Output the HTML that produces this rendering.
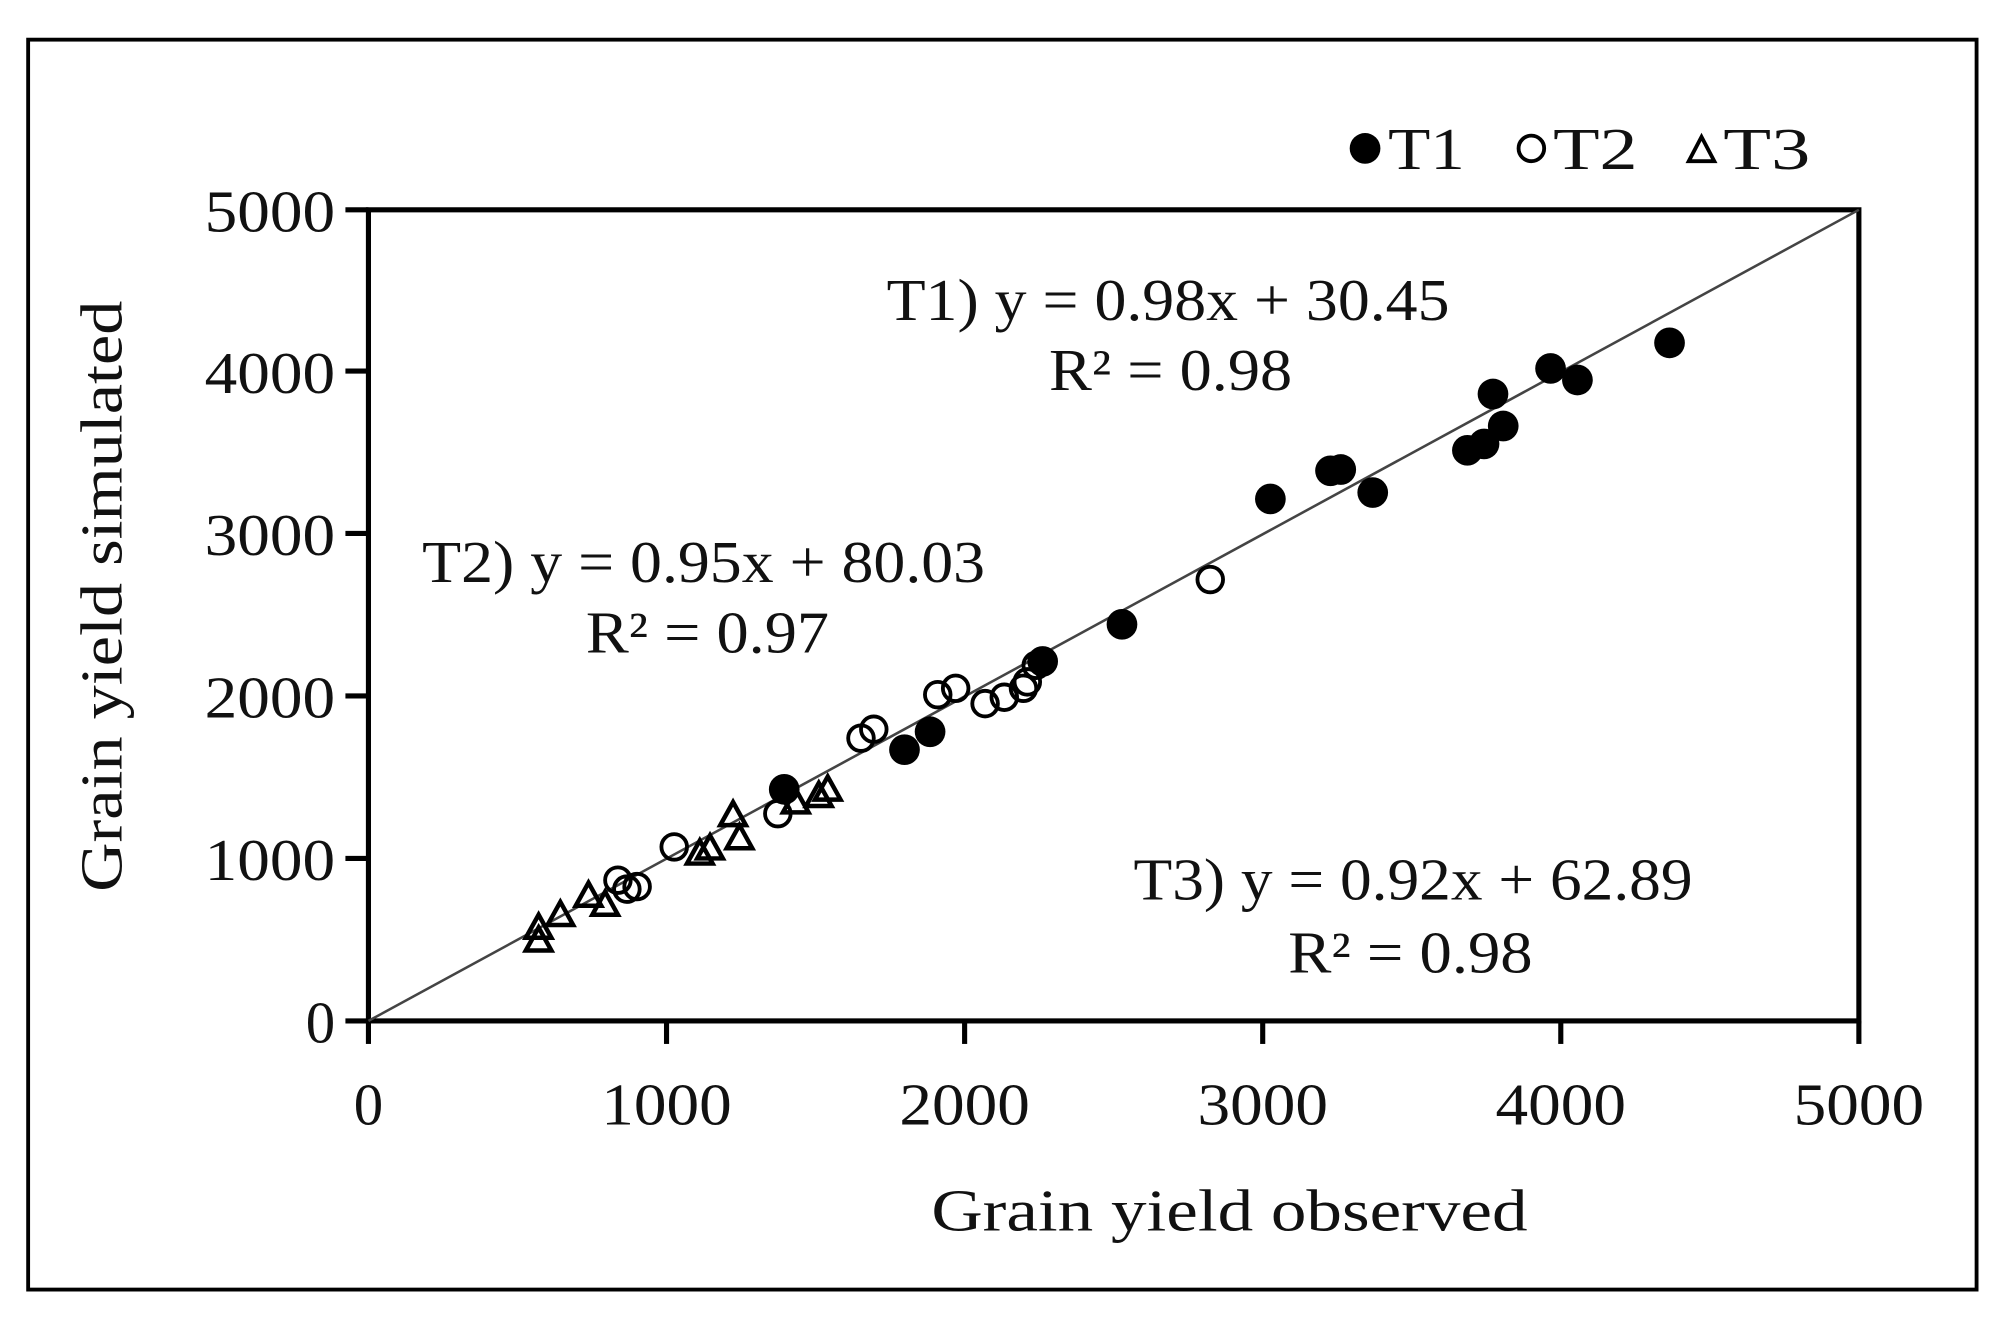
<!DOCTYPE html>
<html><head><style>html,body{margin:0;padding:0;background:#fff}svg{display:block}text{font-family:"Liberation Serif","Times New Roman",serif}</style></head>
<body>
<svg width="2006" height="1319" viewBox="0 0 1568 1031" preserveAspectRatio="none" xmlns="http://www.w3.org/2000/svg" fill="#111">
<rect x="22" y="31" width="1523" height="977" fill="none" stroke="#000" stroke-width="3"/>
<rect x="288" y="164" width="1165" height="634" fill="none" stroke="#000" stroke-width="4"/>
<g stroke="#000" stroke-width="4">
<line x1="270" y1="798" x2="288" y2="798"/><line x1="270" y1="671" x2="288" y2="671"/><line x1="270" y1="544" x2="288" y2="544"/><line x1="270" y1="417" x2="288" y2="417"/><line x1="270" y1="290" x2="288" y2="290"/><line x1="270" y1="164" x2="288" y2="164"/>
<line x1="288" y1="798" x2="288" y2="816"/><line x1="521" y1="798" x2="521" y2="816"/><line x1="754" y1="798" x2="754" y2="816"/><line x1="987" y1="798" x2="987" y2="816"/><line x1="1220" y1="798" x2="1220" y2="816"/><line x1="1453" y1="798" x2="1453" y2="816"/>
</g>
<line x1="288" y1="798" x2="1453" y2="164" stroke="#444" stroke-width="2"/>
<g font-size="46">
<text x="262" y="181" text-anchor="end" textLength="102" lengthAdjust="spacingAndGlyphs">5000</text>
<text x="262" y="307" text-anchor="end" textLength="102" lengthAdjust="spacingAndGlyphs">4000</text>
<text x="262" y="434" text-anchor="end" textLength="102" lengthAdjust="spacingAndGlyphs">3000</text>
<text x="262" y="561" text-anchor="end" textLength="102" lengthAdjust="spacingAndGlyphs">2000</text>
<text x="262" y="688" text-anchor="end" textLength="102" lengthAdjust="spacingAndGlyphs">1000</text>
<text x="262" y="815" text-anchor="end">0</text>
<text x="288" y="879" text-anchor="middle">0</text>
<text x="521" y="879" text-anchor="middle" textLength="102" lengthAdjust="spacingAndGlyphs">1000</text>
<text x="754" y="879" text-anchor="middle" textLength="102" lengthAdjust="spacingAndGlyphs">2000</text>
<text x="987" y="879" text-anchor="middle" textLength="102" lengthAdjust="spacingAndGlyphs">3000</text>
<text x="1220" y="879" text-anchor="middle" textLength="102" lengthAdjust="spacingAndGlyphs">4000</text>
<text x="1453" y="879" text-anchor="middle" textLength="102" lengthAdjust="spacingAndGlyphs">5000</text>
<text x="728" y="962" textLength="466" lengthAdjust="spacingAndGlyphs">Grain yield  observed</text>
<text transform="translate(95,697) rotate(-90)" textLength="462" lengthAdjust="spacingAndGlyphs">Grain yield  simulated</text>
<text x="693" y="250" textLength="440" lengthAdjust="spacingAndGlyphs">T1) y = 0.98x + 30.45</text>
<text x="820" y="305" textLength="190" lengthAdjust="spacingAndGlyphs">R² = 0.98</text>
<text x="330" y="455" textLength="440" lengthAdjust="spacingAndGlyphs">T2) y = 0.95x + 80.03</text>
<text x="458" y="510" textLength="190" lengthAdjust="spacingAndGlyphs">R² = 0.97</text>
<text x="886" y="703" textLength="437" lengthAdjust="spacingAndGlyphs">T3) y = 0.92x + 62.89</text>
<text x="1007" y="760" textLength="191" lengthAdjust="spacingAndGlyphs">R² = 0.98</text>
<text x="1085" y="132" textLength="60" lengthAdjust="spacingAndGlyphs">T1</text>
<text x="1214" y="132" textLength="66" lengthAdjust="spacingAndGlyphs">T2</text>
<text x="1347" y="132" textLength="68" lengthAdjust="spacingAndGlyphs">T3</text>
</g>
<circle cx="1067" cy="116" r="12" fill="#000"/>
<circle cx="1197" cy="116" r="10" fill="none" stroke="#000" stroke-width="3"/>
<path d="M1330,107 L1340,126 L1320,126 Z" fill="none" stroke="#000" stroke-width="3"/>
<g fill="none" stroke="#000" stroke-width="3.5">
<path d="M421,715 l10,18 h-20 z"/><path d="M421,725 l10,18 h-20 z"/><path d="M438,705 l10,18 h-20 z"/>
<path d="M460,690 l10,18 h-20 z"/><path d="M473,697 l10,18 h-20 z"/>
<path d="M547,657 l10,18 h-20 z"/><path d="M555,653 l10,18 h-20 z"/><path d="M578,645 l10,18 h-20 z"/><path d="M573,627 l10,18 h-20 z"/>
<path d="M622,617 l10,18 h-20 z"/><path d="M640,612 l10,18 h-20 z"/><path d="M647,607 l10,18 h-20 z"/>
</g>
<g fill="none" stroke="#000" stroke-width="3">
<circle cx="946" cy="453" r="10"/><circle cx="810" cy="520" r="10"/><circle cx="803" cy="533" r="10"/>
<circle cx="747" cy="538" r="10"/><circle cx="733" cy="543" r="10"/><circle cx="770" cy="550" r="10"/>
<circle cx="785" cy="545" r="10"/><circle cx="800" cy="538" r="10"/><circle cx="683" cy="570" r="10"/>
<circle cx="673" cy="577" r="10"/><circle cx="608" cy="636" r="10"/><circle cx="527" cy="662" r="10"/>
<circle cx="483" cy="688" r="10"/><circle cx="498" cy="693" r="10"/><circle cx="490" cy="695" r="10"/>
</g>
<g fill="#000">
<circle cx="1305" cy="268" r="12"/><circle cx="1212" cy="288" r="12"/><circle cx="1233" cy="297" r="12"/>
<circle cx="1167" cy="308" r="12"/><circle cx="1175" cy="333" r="12"/><circle cx="1160" cy="347" r="12"/>
<circle cx="1147" cy="352" r="12"/><circle cx="1040" cy="368" r="12"/><circle cx="1048" cy="367" r="12"/>
<circle cx="1073" cy="385" r="12"/><circle cx="993" cy="390" r="12"/><circle cx="877" cy="488" r="12"/>
<circle cx="707" cy="586" r="12"/><circle cx="727" cy="572" r="12"/><circle cx="613" cy="617" r="12"/>
<circle cx="815" cy="517" r="12"/>
</g>
</svg>
</body></html>
